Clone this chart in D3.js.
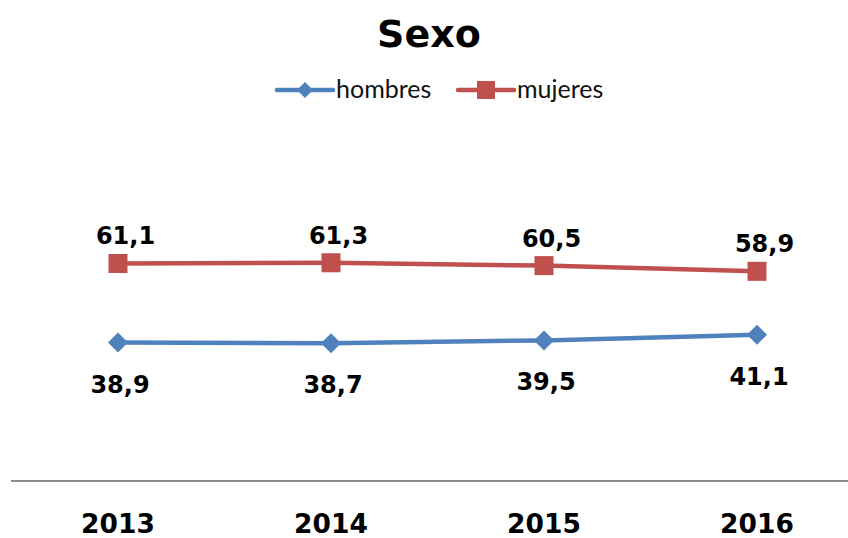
<!DOCTYPE html>
<html><head><meta charset="utf-8">
<script src="https://cdn.jsdelivr.net/npm/d3@7"></script>
<style>body{margin:0;background:#fff}svg{display:block}</style>
</head><body>
<script>
const years = ["2013","2014","2015","2016"];
const hombres = [38.9, 38.7, 39.5, 41.1];
const mujeres = [61.1, 61.3, 60.5, 58.9];
const seriesNames = ["hombres","mujeres"];
const colors = ["#4F81BD","#C0504D"];

const W = 848, H = 538;
const svg = d3.select("body").append("svg").attr("width", W).attr("height", H);

const x = d3.scaleBand().domain(years).range([11.5, 863.5]);
const y = d3.scaleLinear().domain([0, 100]).range([481, 125]);
const cx = d => x(d) + x.bandwidth()/2;

// title
svg.append("text").attr("x", 429).attr("y", 47).attr("text-anchor","middle")
  .attr("font-family","DejaVu Sans").attr("font-weight","bold").attr("font-size",38)
  .text("Sexo");

// axis line
svg.append("line").attr("x1", 11).attr("x2", 848).attr("y1", y(0)).attr("y2", y(0))
  .attr("stroke","#8c8c8c").attr("stroke-width",2);

// year labels
svg.selectAll("text.year").data(years).join("text").attr("class","year")
  .attr("x", d => cx(d)).attr("y", 533).attr("text-anchor","middle")
  .attr("font-family","DejaVu Sans").attr("font-weight","bold").attr("font-size",26.5)
  .text(d => d);

const line = d3.line().x((d,i) => cx(years[i])).y(d => y(d));

function drawSeries(vals, color, marker, dx, dy) {
  svg.append("path").datum(vals).attr("d", line).attr("fill","none")
    .attr("stroke", color).attr("stroke-width",4.5).attr("stroke-linejoin","round");
  const g = svg.append("g");
  vals.forEach((v,i) => {
    const px = cx(years[i]), py = y(v);
    if (marker === "square") {
      g.append("rect").attr("x", px-9.5).attr("y", py-9.5).attr("width",19).attr("height",19)
        .attr("fill", color);
    } else {
      g.append("path").attr("d", d3.symbol().type(d3.symbolSquare).size(200)())
        .attr("transform", `translate(${px},${py}) rotate(45)`).attr("fill", color);
    }
    svg.append("text").attr("x", px + dx).attr("y", py + dy)
      .attr("text-anchor","middle").attr("font-family","DejaVu Sans")
      .attr("font-weight","bold").attr("font-size",24)
      .text(v.toFixed(1).replace(".", ","));
  });
}
drawSeries(hombres, colors[0], "diamond", 2, 50);
drawSeries(mujeres, colors[1], "square", 7.5, -19);

// legend
const leg = [{x:277, name: seriesNames[0], c: colors[0], m:"diamond"},
             {x:458, name: seriesNames[1], c: colors[1], m:"square"}];
leg.forEach(l => {
  const ly = 90;
  svg.append("line").attr("x1", l.x).attr("x2", l.x+56).attr("y1", ly).attr("y2", ly)
    .attr("stroke", l.c).attr("stroke-width",4.5).attr("stroke-linecap","round");
  if (l.m === "square") {
    svg.append("rect").attr("x", l.x+28-9).attr("y", ly-9).attr("width",18).attr("height",18).attr("fill", l.c);
  } else {
    svg.append("path").attr("d", d3.symbol().type(d3.symbolSquare).size(130)())
      .attr("transform", `translate(${l.x+28},${ly}) rotate(45)`).attr("fill", l.c);
  }
  svg.append("text").attr("x", l.x+59).attr("y", ly+8)
    .attr("font-family","Lato").attr("font-size",25).attr("fill","#111").text(l.name);
});
</script>
</body></html>
